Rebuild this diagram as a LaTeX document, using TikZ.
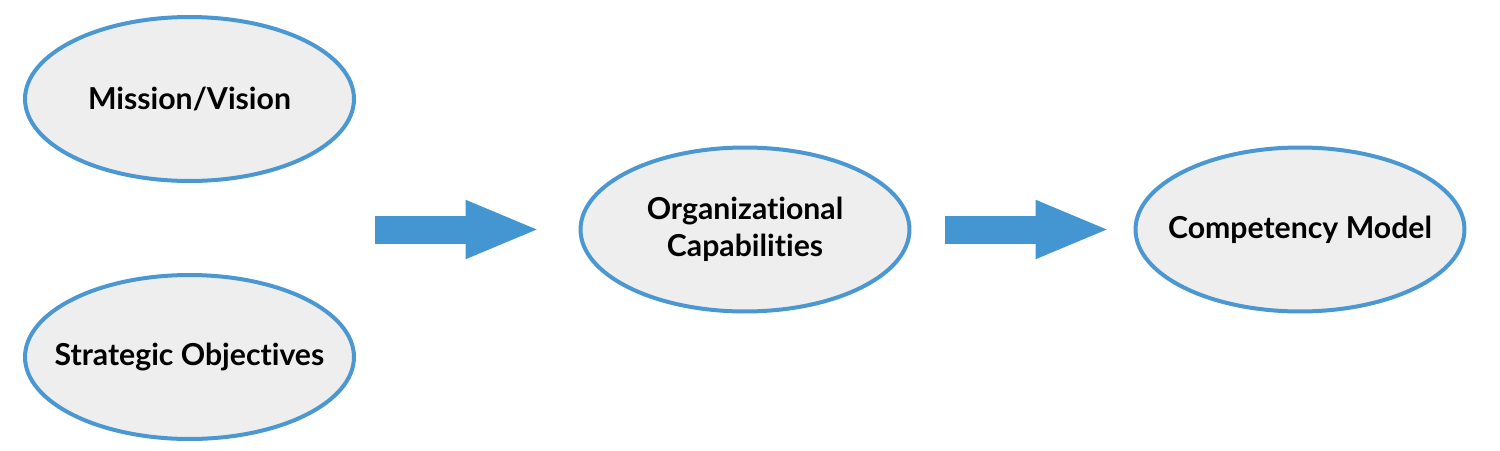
\documentclass[tikz,border=0pt]{standalone}
\usepackage{fontspec}
\setmainfont{Lato}[Ligatures=NoCommon]
\usepackage{tikz}
\usetikzlibrary{shapes,positioning,calc,arrows.meta}
\definecolor{ellblue}{HTML}{4A97D2}
\definecolor{ellgray}{HTML}{EEEEEE}
\definecolor{arrblue}{HTML}{4396D1}

\begin{document}
\begin{tikzpicture}[x=0.02cm, y=-0.02cm,
    every node/.style={font=\fontsize{17.2}{21}\selectfont\bfseries},
    goal/.style={ellipse, draw=ellblue, fill=ellgray, line width=0.08cm,
        minimum width=6.58cm, minimum height=3.28cm, inner xsep=-1.2cm,
        inner ysep=0pt, align=center},
    flow/.style={draw=arrblue, line width=0.56cm,
        -{Triangle[length=1.5cm, width=1.06cm]}}]
    \useasboundingbox (0,0) rectangle (1500,450);

    \node [goal] (mission) at (189.5,99) {Mission/Vision};
    \node [goal] (strategic) at (189.5,357) {Strategic Objectives};
    \node [goal] (capab) at (745,229.5) {Organizational\\Capabilities};
    \node [goal] (compet) at (1300,229.5) {Competency Model};

    \draw [flow, shorten <=0.38cm, shorten >=0.76cm] (mission.east |- capab.west) -- (capab.west);
    \draw [flow, shorten <=0.68cm, shorten >=0.46cm] (capab.east) -- (compet.west);
\end{tikzpicture}
\end{document}
